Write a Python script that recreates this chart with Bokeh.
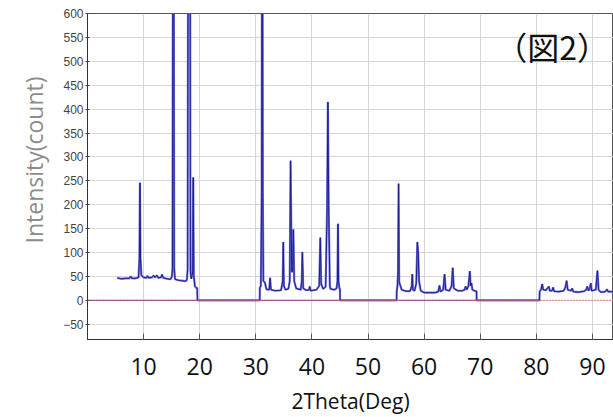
from bokeh.plotting import figure
from bokeh.models import FixedTicker, Span, Label, Range1d, ColumnDataSource, Title
from bokeh.embed import file_html
from bokeh.resources import INLINE

# 2Theta (deg) and intensity (count)
two_theta = [
    5.3, 6.0, 6.8, 7.5, 7.7, 7.9, 8.6, 9.1, 9.25, 9.35, 9.45, 9.6, 10.0, 10.5, 10.7, 10.9,
    11.5, 11.8, 12.0, 12.4, 12.6, 13.1, 13.3, 13.5, 14.2, 14.8, 15.05, 15.15, 15.3, 15.45,
    15.6, 16.2, 16.8, 17.4, 17.7, 17.85, 18.0, 18.25, 18.35, 18.5, 18.75, 18.85, 18.95,
    19.15, 19.4, 19.55, 19.6,
    30.7, 30.72, 30.9, 31.05, 31.15, 31.25, 31.35, 31.6, 31.9, 32.4, 32.55, 32.7, 33.5,
    34.5, 34.8, 34.9, 35.0, 35.3, 35.8, 36.05, 36.2, 36.4, 36.55, 36.7, 36.85, 37.2, 38.0,
    38.2, 38.3, 38.45, 39.0, 39.5, 39.6, 39.75, 40.8, 41.3, 41.5, 41.65, 42.0, 42.45, 42.7,
    42.85, 43.0, 43.2, 43.3, 44.0, 44.4, 44.55, 44.65, 44.75, 44.9, 45.0, 45.02,
    55.1, 55.12, 55.25, 55.35, 55.45, 55.55, 55.7, 56.0, 56.8, 57.5, 57.8, 57.9, 58.0,
    58.3, 58.6, 58.8, 58.95, 59.1, 59.4, 60.0, 61.0, 62.0, 62.5, 62.75, 62.9, 63.4, 63.65,
    63.85, 64.5, 64.9, 65.1, 65.3, 66.0, 66.8, 67.2, 67.4, 67.6, 67.9, 68.15, 68.3, 68.45,
    68.6, 69.2, 69.35, 69.37,
    80.55, 80.6, 80.85, 81.05, 81.25, 81.7, 82.25, 82.4, 82.8, 83.0, 83.15, 84.0, 84.9,
    85.2, 85.4, 85.6, 86.2, 86.4, 86.6, 87.5, 88.5, 88.9, 89.1, 89.3, 89.55, 89.7, 89.85,
    90.6, 90.9, 91.1, 91.5, 92.3, 92.6, 92.8, 93.5, 94.0,
]
intensity = [
    47, 45, 46, 46, 50, 46, 46, 48, 88, 246, 88, 52, 48, 47, 51, 47,
    48, 52, 48, 52, 47, 48, 54, 47, 45, 44, 50, 68, 1500, 68,
    44, 42, 41, 40, 42, 65, 1400, 1400, 60, 45, 60, 257, 50,
    29, 26, 26, 0,
    0, 26, 30, 225, 1400, 225, 40, 38, 23, 22, 47, 22, 20,
    21, 40, 122, 30, 22, 24, 40, 292, 60, 60, 148, 40, 25, 22,
    40, 101, 25, 21, 22, 29, 20, 22, 30, 131, 35, 24, 28, 187,
    415, 187, 30, 24, 22, 25, 40, 160, 40, 25, 24, 0,
    0, 19, 30, 60, 244, 40, 33, 22, 19, 19, 30, 55, 22,
    20, 35, 122, 99, 40, 20, 16, 16, 16, 18, 31, 18, 22, 55,
    22, 20, 30, 68, 25, 20, 20, 22, 29, 22, 30, 61, 30, 36,
    22, 19, 19, 0,
    0, 19, 22, 34, 22, 21, 29, 20, 20, 27, 19, 18, 20,
    28, 41, 22, 20, 25, 18, 17, 19, 22, 29, 20, 25, 36, 20,
    22, 62, 22, 17, 18, 23, 18, 18, 18,
]
# zero-count gaps between the measured windows
gap_x = [19.6, 30.7, None, 45.02, 55.1, None, 69.37, 80.55]
gap_y = [0, 0, None, 0, 0, None, 0, 0]

x_ticks = [10, 20, 30, 40, 50, 60, 70, 80, 90]
y_ticks = [-50, 0, 50, 100, 150, 200, 250, 300, 350, 400, 450, 500, 550, 600]

x_label = "2Theta(Deg)"
y_label = "Intensity(count)"
tag = "（図2）"

p = figure(width=613, height=417, output_backend="svg", toolbar_location=None,
           x_range=Range1d(0, 93.76), y_range=Range1d(-82, 600),
           min_border_left=87, min_border_right=0, min_border_top=13, min_border_bottom=78,
           background_fill_color="white", border_fill_color="white")

p.outline_line_color = "#555555"
p.outline_line_width = 1

# grid
p.xgrid.ticker = FixedTicker(ticks=[0] + x_ticks)
p.ygrid.ticker = FixedTicker(ticks=y_ticks)
p.grid.grid_line_color = "#d6d6d6"
p.grid.grid_line_width = 1

# x axis
p.xaxis.ticker = FixedTicker(ticks=x_ticks)
p.xaxis.axis_line_color = "#333333"
p.xaxis.major_tick_line_color = "#555555"
p.xaxis.major_tick_in = 6
p.xaxis.major_tick_out = 0
p.xaxis.minor_tick_line_color = None
p.xaxis.major_label_standoff = 18
p.xaxis.major_label_text_font = "Open Sans"
p.xaxis.major_label_text_font_size = "23px"
p.xaxis.major_label_text_color = "#111111"
p.xaxis.axis_label = x_label
p.xaxis.axis_label_text_font = "Open Sans"
p.xaxis.axis_label_text_font_size = "21px"
p.xaxis.axis_label_text_font_style = "normal"
p.xaxis.axis_label_text_color = "#111111"
p.xaxis.axis_label_standoff = 9

# y axis
p.yaxis.ticker = FixedTicker(ticks=y_ticks)
p.yaxis.axis_line_color = "#333333"
p.yaxis.major_tick_line_color = "#444444"
p.yaxis.major_tick_in = 2
p.yaxis.major_tick_out = 2
p.yaxis.minor_tick_line_color = None
p.yaxis.major_label_standoff = 2
p.yaxis.major_label_text_font = "Liberation Sans"
p.yaxis.major_label_text_font_size = "12px"
p.yaxis.major_label_text_color = "#444444"

p.add_layout(Title(text=y_label, align="left", offset=96, standoff=22,
                   text_font="Open Sans", text_font_size="23px",
                   text_font_style="normal", text_color="#8c8c8c"), "left")

# zero reference line
p.add_layout(Span(location=0, dimension="width", line_color="#cc3333",
                  line_width=1, line_dash="1 2"))

src = ColumnDataSource(dict(x=two_theta, y=intensity))
p.line("x", "y", source=src, line_color="#7676dc", line_width=2.2)
p.line("x", "y", source=src, line_color="#1e1e8e", line_width=1)
p.line(gap_x, gap_y, line_color="#8a6ab8", line_width=1.2)

p.add_layout(Label(x=82.8, y=533, text=tag, text_align="center", text_baseline="middle",
                   text_font="Noto Sans CJK JP", text_font_size="32px",
                   text_color="#111111"))

open("out.html", "w").write(file_html(p, INLINE))
